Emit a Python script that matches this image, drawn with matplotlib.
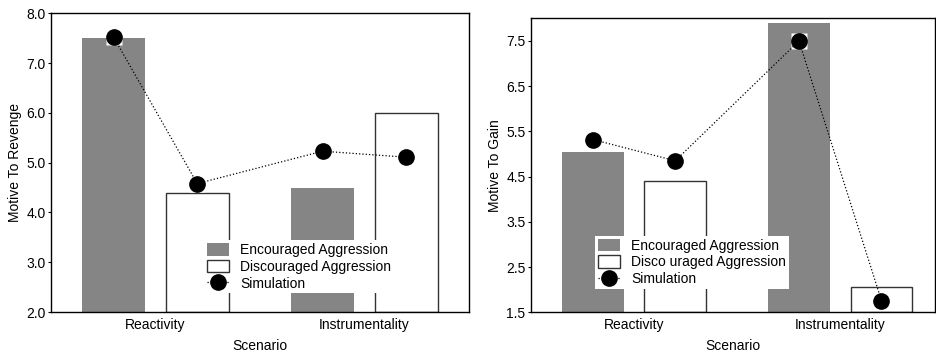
import matplotlib.pyplot as plt
import numpy as np

plt.rcParams['font.family'] = ['Liberation Sans', 'DejaVu Sans']

scenarios = ['Reactivity', 'Instrumentality']

# left panel: motive to revenge
revenge_encouraged = [7.5, 4.5]
revenge_discouraged = [4.4, 6.0]
revenge_sim_enc = [7.52, 5.23]
revenge_sim_dis = [4.58, 5.11]

# right panel: motive to gain
gain_encouraged = [5.05, 7.9]
gain_discouraged = [4.4, 2.05]
gain_sim_enc = [5.32, 7.5]
gain_sim_dis = [4.85, 1.76]

gray = '#858585'
x = np.arange(len(scenarios))
w = 0.3
off = 0.2
fs = 10


def panel(ax, enc, dis, sim_enc, sim_dis, ylim, yticks, ylabel, xlim, labels, leg_anchor):
    b1 = ax.bar(x - off, np.array(enc) - ylim[0], w, bottom=ylim[0], color=gray,
                edgecolor='none', label=labels[0], zorder=2)
    b2 = ax.bar(x + off, np.array(dis) - ylim[0], w, bottom=ylim[0], color='white',
                edgecolor='#333333', linewidth=1, label=labels[1], zorder=2)
    # simulation points in bar order
    xs = np.ravel(np.column_stack([x - off, x + off]))
    ys = np.ravel(np.column_stack([sim_enc, sim_dis]))
    ax.plot(xs, ys, ls='none', marker='s', ms=12, mfc='white', mec='none', zorder=3)
    ln, = ax.plot(xs, ys, ls=':', color='black', lw=0.9, marker='o', ms=11,
                  mfc='black', mec='black', label=labels[2], zorder=4)
    ax.set_xlim(*xlim)
    ax.set_ylim(*ylim)
    ax.set_yticks(yticks)
    ax.set_yticklabels(['%.1f' % t for t in yticks])
    ax.set_xticks(x)
    ax.set_xticklabels(scenarios)
    ax.tick_params(axis='x', length=0, labelsize=fs, pad=4)
    ax.tick_params(axis='y', length=2, labelsize=fs, pad=2)
    ax.set_xlabel('Scenario', fontsize=fs, labelpad=5)
    ax.set_ylabel(ylabel, fontsize=fs, labelpad=3)
    for s in ax.spines.values():
        s.set_linewidth(1)
        s.set_color('black')
    leg = ax.legend([b1, b2, ln], labels, loc='upper left', bbox_to_anchor=leg_anchor,
                    borderaxespad=0, fontsize=fs, frameon=True, fancybox=False,
                    framealpha=1, facecolor='white', edgecolor='none',
                    handlelength=1.6, handleheight=1.0, handletextpad=0.8,
                    labelspacing=0.2, borderpad=0.2)
    leg.set_zorder(5)


fig = plt.figure(figsize=(9.37, 3.54), dpi=100)
ax1 = fig.add_axes([0.0544, 0.1186, 0.446, 0.8438])
ax2 = fig.add_axes([0.5667, 0.1178, 0.4312, 0.8305])

panel(ax1, revenge_encouraged, revenge_discouraged, revenge_sim_enc, revenge_sim_dis,
      (2.0, 8.0), [2.0, 3.0, 4.0, 5.0, 6.0, 7.0, 8.0], 'Motive To Revenge', (-0.5, 1.5),
      ['Encouraged Aggression', 'Discouraged Aggression', 'Simulation'], (0.366, 0.24))
panel(ax2, gain_encouraged, gain_discouraged, gain_sim_enc, gain_sim_dis,
      (1.5, 8.0), [1.5, 2.5, 3.5, 4.5, 5.5, 6.5, 7.5], 'Motive To Gain', (-0.5, 1.46),
      ['Encouraged Aggression', 'Disco uraged Aggression', 'Simulation'], (0.158, 0.26))

fig.savefig('out.png', dpi=100)
